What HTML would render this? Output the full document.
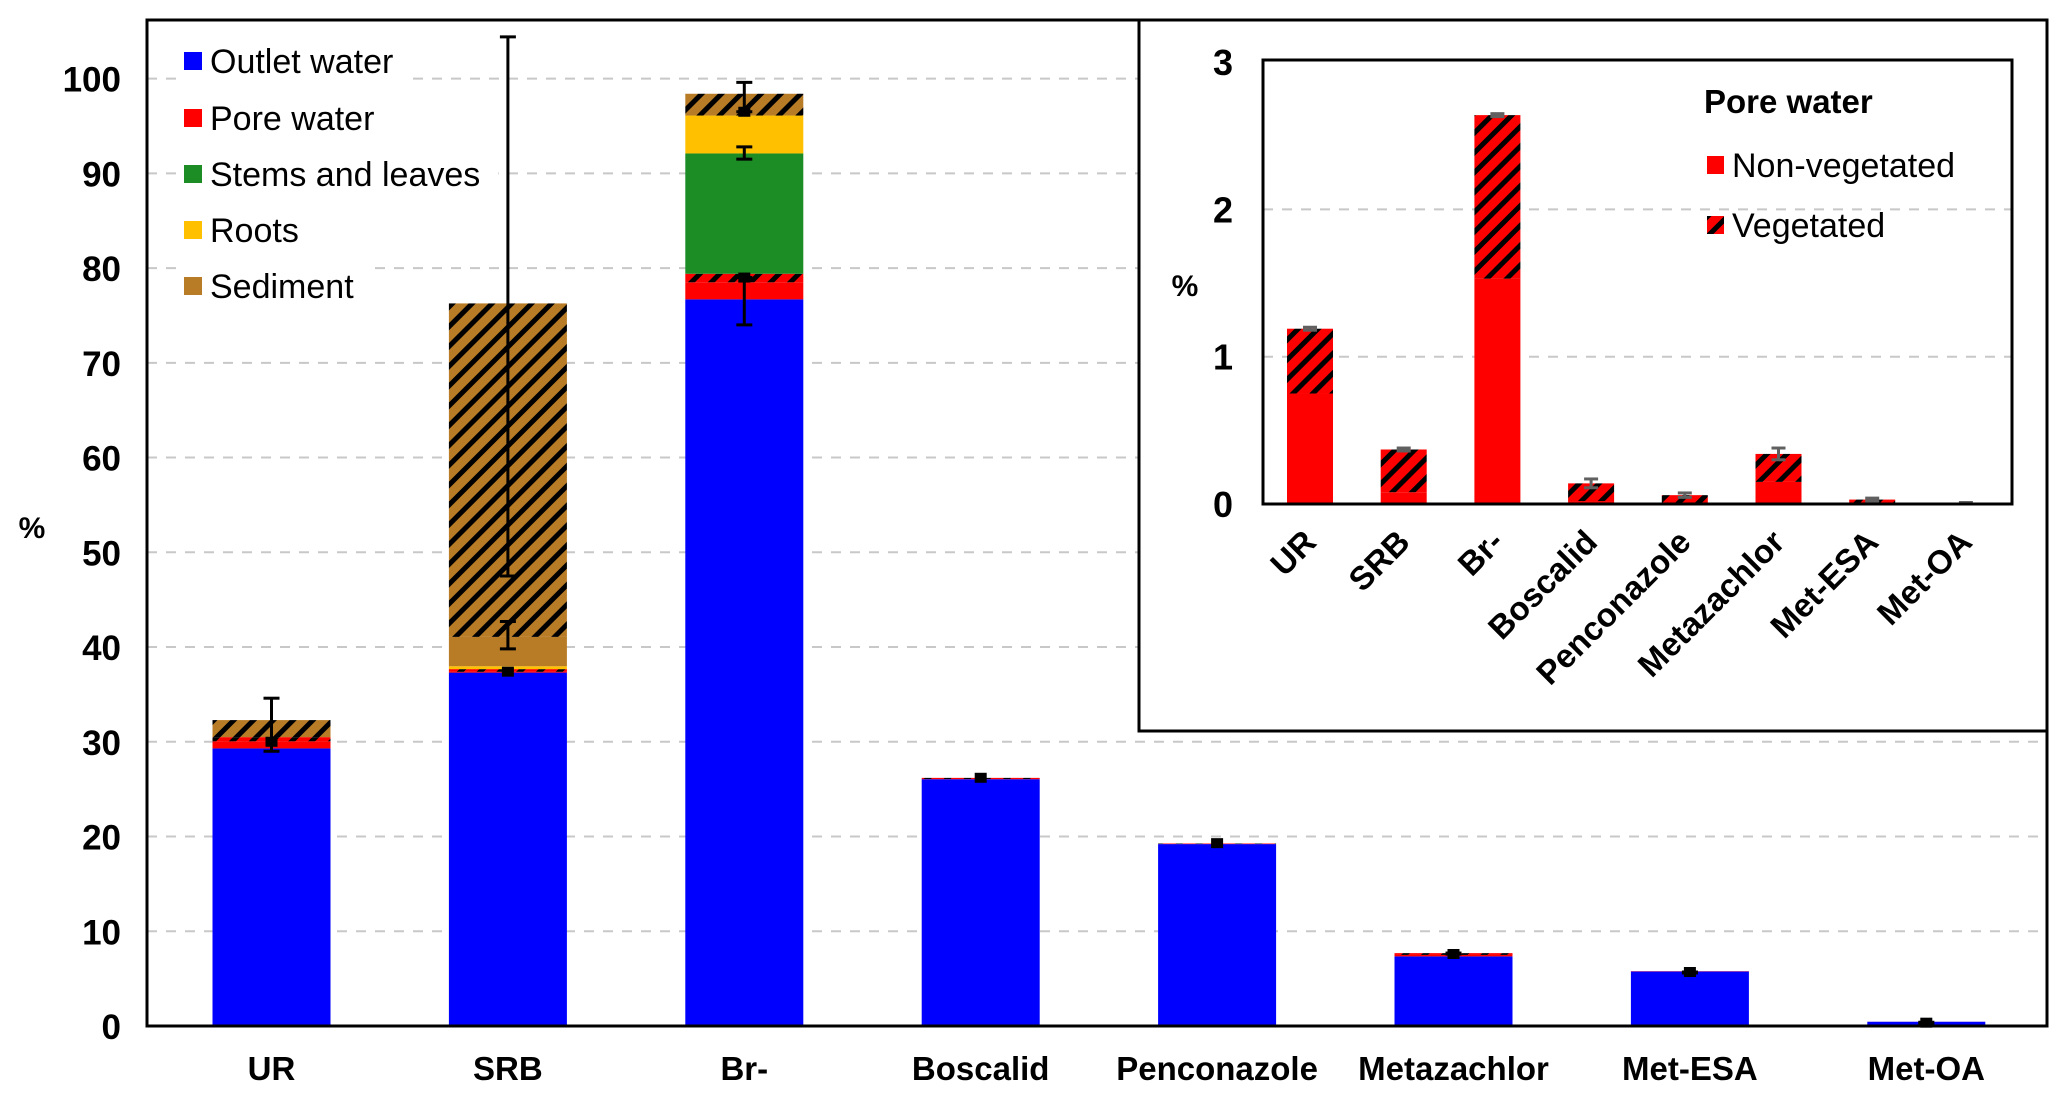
<!DOCTYPE html>
<html><head><meta charset="utf-8"><style>
html,body{margin:0;padding:0;background:#fff;}
svg{display:block;font-family:"Liberation Sans",Arial,sans-serif;}
</style></head><body>
<svg id="chart" width="2067" height="1096" viewBox="0 0 2067 1096" xmlns="http://www.w3.org/2000/svg">
<defs>
<pattern id="hatchBrown" patternUnits="userSpaceOnUse" width="14" height="14" patternTransform="rotate(45)">
<rect width="14" height="14" fill="#b87c26"/><rect x="0" y="0" width="5" height="14" fill="#000"/></pattern>
<pattern id="hatchRed" patternUnits="userSpaceOnUse" width="14" height="14" patternTransform="rotate(45)">
<rect width="14" height="14" fill="#ff0000"/><rect x="0" y="0" width="5" height="14" fill="#000"/></pattern>
</defs>
<g id="main"></g>
<g id="inset"></g>
</svg>
<script>
const categories = ["UR","SRB","Br-","Boscalid","Penconazole","Metazachlor","Met-ESA","Met-OA"];
const outletWater = [29.3, 37.3, 76.7, 26.05, 19.2, 7.35, 5.75, 0.45];
const poreNonVeg = [0.75, 0.08, 1.8, 0.02, 0.01, 0.15, 0.03, 0.005];
const poreVeg = [0.44, 0.29, 0.9, 0.12, 0.05, 0.19, 0.0, 0.0];
const stemsLeaves = [0, 0, 12.7, 0, 0, 0, 0, 0];
const roots = [0, 0.3, 4.0, 0, 0, 0, 0, 0];
const sedimentNonVeg = [0, 3.1, 0, 0, 0, 0, 0, 0];
const sedimentVeg = [1.8, 35.2, 2.3, 0, 0, 0, 0, 0];
const mainTicks = [0,10,20,30,40,50,60,70,80,90,100];
// error bars: category index, low, high, marker value
const errCat = [0, 1, 1, 1, 2, 2, 2, 3, 4, 5, 6, 7];
const errLow = [29.0, 47.5, 39.8, 37.4, 74.0, 91.5, 96.5, 26.2, 19.2, 7.6, 5.6, 0.3];
const errHigh = [34.6, 104.4, 42.7, 37.4, 79.0, 92.8, 99.6, 26.2, 19.2, 7.7, 5.7, 0.4];
const errMark = [30.0, null, null, 37.4, 79.0, null, 96.5, 26.2, 19.3, 7.6, 5.7, 0.35];

const insetNonVeg = [0.75, 0.08, 1.53, 0.02, 0.01, 0.15, 0.01, 0.0];
const insetVeg = [0.44, 0.29, 1.11, 0.12, 0.05, 0.19, 0.02, 0.005];
const insetErr = [0.01, 0.01, 0.01, 0.03, 0.015, 0.04, 0.01, 0.005];
const insetTicks = [0,1,2,3];

const NS="http://www.w3.org/2000/svg";
function mk(tag, attrs, parent){const e=document.createElementNS(NS,tag);for(const k in attrs)e.setAttribute(k,attrs[k]);parent.appendChild(e);return e;}

// ---------- main chart ----------
const main=document.getElementById('main');
const PL=147,PR=2047,PT=20,PB=1026;
const y=v=>PB-(v/100)*(PB-78.6);
const xc=i=>271.5+i*236.4;
const BW=118;
mainTicks.forEach(t=>{
  if(t>0){const g=mk('line',{x1:PL,x2:PR,y1:y(t),y2:y(t),stroke:'#c8c8c8','stroke-width':2,'stroke-dasharray':'10 9'},main);
  
  }
  const tl=mk('text',{x:121,y:y(t)+13,'text-anchor':'end','font-size':35,'font-weight':'bold'},main);
  tl.textContent=t;
  
  
});
const series=[[outletWater,'#0000ff','outlet-water'],[poreNonVeg,'#ff0000','pore-water-nonveg'],[poreVeg,'url(#hatchRed)','pore-water-veg'],[stemsLeaves,'#1c8c24','stems-leaves'],[roots,'#ffc000','roots'],[sedimentNonVeg,'#b87c26','sediment-nonveg'],[sedimentVeg,'url(#hatchBrown)','sediment-veg']];
categories.forEach((c,i)=>{
  let base=0;
  series.forEach(s=>{
    const v=s[0][i]; if(v<=0) return;
    const r=mk('rect',{x:xc(i)-BW/2,y:y(base+v),width:BW,height:y(base)-y(base+v),fill:s[1]},main);
    
    
    base+=v;
  });
  const lb=mk('text',{x:xc(i),y:1080,'text-anchor':'middle','font-size':33,'font-weight':'bold'},main);
  lb.textContent=c;
  
  
});
errCat.forEach((ci,k)=>{
  const x=xc(ci);
  const g=mk('g',{},main);
  
  
  if(errHigh[k]>errLow[k]){
    mk('line',{x1:x,x2:x,y1:y(errLow[k]),y2:y(errHigh[k]),stroke:'#000','stroke-width':3},g);
    mk('line',{x1:x-8,x2:x+8,y1:y(errLow[k]),y2:y(errLow[k]),stroke:'#000','stroke-width':3},g);
    mk('line',{x1:x-8,x2:x+8,y1:y(errHigh[k]),y2:y(errHigh[k]),stroke:'#000','stroke-width':3},g);
  }
  if(errMark[k]!==null) mk('rect',{x:x-6,y:y(errMark[k])-5,width:12,height:10,fill:'#000'},g);
});
mk('rect',{x:PL,y:PT,width:PR-PL,height:PB-PT,fill:'none',stroke:'#000','stroke-width':3},main);
const pct=mk('text',{x:32,y:538,'text-anchor':'middle','font-size':30,'font-weight':'bold'},main);
pct.textContent='%';


// legend
const legItems=[['Outlet water','#0000ff'],['Pore water','#ff0000'],['Stems and leaves','#1c8c24'],['Roots','#ffc000'],['Sediment','#b87c26']];
const legYs=[61,118,174,230,286];
legItems.forEach((li,k)=>{
  const g=mk('g',{},main);
  
  
  const bg=mk('rect',{x:178,y:legYs[k]-24,width:100,height:48,fill:'#fff'},g);
  mk('rect',{x:184,y:legYs[k]-9,width:18,height:18,fill:li[1]},g);
  const t=mk('text',{x:210,y:legYs[k]+12,'font-size':34},g);
  t.textContent=li[0];
  bg.setAttribute('width',t.getComputedTextLength()+50);
});

// ---------- inset ----------
const inset=document.getElementById('inset');
const box=mk('rect',{x:1139,y:20,width:908,height:711,fill:'#fff',stroke:'#000','stroke-width':3},inset);


const IL=1263,IR=2012,IT=60,IB=504;
const iy=v=>IB-v*147.3;
const ix=i=>1310+i*93.7;
const IBW=46;
insetTicks.forEach(t=>{
  if(t>0&&t<3){const g=mk('line',{x1:IL,x2:IR,y1:iy(t),y2:iy(t),stroke:'#c8c8c8','stroke-width':2,'stroke-dasharray':'10 9'},inset);
  
  }
  const tl=mk('text',{x:1233,y:iy(t)+13,'text-anchor':'end','font-size':36,'font-weight':'bold'},inset);
  tl.textContent=t;
  
  
});
categories.forEach((c,i)=>{
  const a=insetNonVeg[i], b=insetVeg[i];
  if(a>0){const r=mk('rect',{x:ix(i)-IBW/2,y:iy(a),width:IBW,height:iy(0)-iy(a),fill:'#ff0000'},inset);
  
  }
  if(b>0){const r=mk('rect',{x:ix(i)-IBW/2,y:iy(a+b),width:IBW,height:iy(a)-iy(a+b),fill:'url(#hatchRed)'},inset);
  
  }
  const top=a+b, e=insetErr[i];
  const g=mk('g',{},inset);
  
  
  mk('line',{x1:ix(i),x2:ix(i),y1:iy(top-e),y2:iy(top+e),stroke:'#606060','stroke-width':3},g);
  mk('line',{x1:ix(i)-7,x2:ix(i)+7,y1:iy(top+e),y2:iy(top+e),stroke:'#606060','stroke-width':3},g);
  mk('line',{x1:ix(i)-7,x2:ix(i)+7,y1:iy(top-e),y2:iy(top-e),stroke:'#606060','stroke-width':3},g);
  const lx=ix(i)+8, ly=544;
  const lb=mk('text',{x:lx,y:ly,'text-anchor':'end','font-size':33,'font-weight':'bold',transform:`rotate(-45 ${lx} ${ly})`},inset);
  lb.textContent=c;
  
  
});
mk('rect',{x:IL,y:IT,width:IR-IL,height:IB-IT,fill:'none',stroke:'#000','stroke-width':3},inset);
const ip=mk('text',{x:1185,y:296,'text-anchor':'middle','font-size':30,'font-weight':'bold'},inset);
ip.textContent='%';


const lt=mk('text',{x:1704,y:113,'font-size':33,'font-weight':'bold'},inset);
lt.textContent='Pore water';


[['Non-vegetated','#ff0000',165],['Vegetated','url(#hatchRed)',225]].forEach(li=>{
  const g=mk('g',{},inset);
  
  
  mk('rect',{x:1707,y:li[2]-9,width:17,height:18,fill:li[1]},g);
  const t=mk('text',{x:1732,y:li[2]+12,'font-size':34},g);
  t.textContent=li[0];
});
</script>
</body></html>
